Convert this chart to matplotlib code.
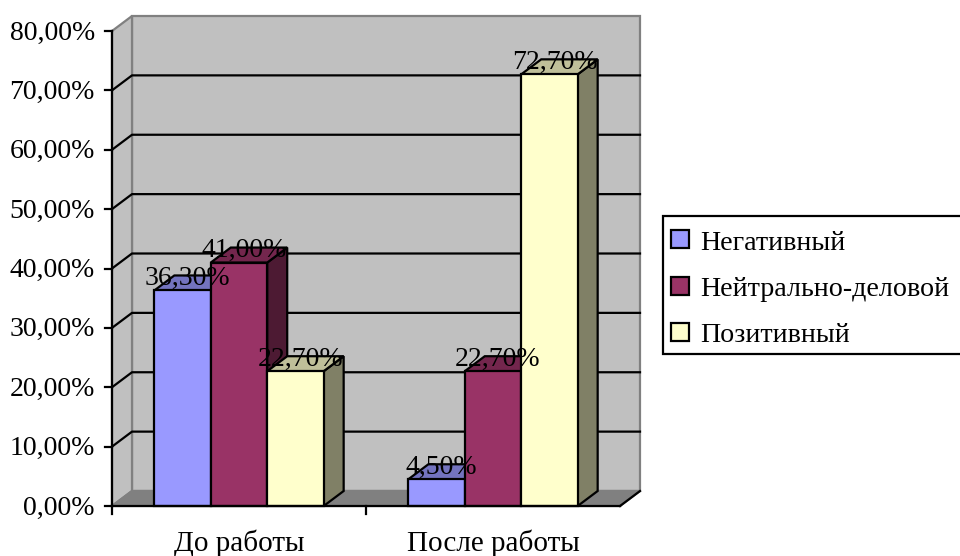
import numpy as np
import matplotlib
matplotlib.use('Agg')
import matplotlib.pyplot as plt
from matplotlib.patches import Polygon, Rectangle

plt.rcParams['font.family'] = ['Liberation Serif', 'DejaVu Serif']

categories = ['До работы', 'После работы']
series_names = ['Негативный', 'Нейтрально-деловой', 'Позитивный']
negative = [36.3, 4.5]
neutral = [41.0, 22.7]
positive = [22.7, 72.7]
y_ticks = [0, 10, 20, 30, 40, 50, 60, 70, 80]

front_colors = ['#9999ff', '#993366', '#ffffcc']
top_colors = ['#7373bf', '#73264d', '#bfbf99']
side_colors = ['#4d4d80', '#4d1a33', '#808066']

W, H = 960, 556
LW = 1.6
fig = plt.figure(figsize=(W / 100, H / 100), dpi=100)
# front plane of the 3d box
ax = fig.add_axes([112 / W, 1 - 506 / H, 508 / W, 475 / H])
ax.set_xlim(0, 2)
ax.set_ylim(0, 80)
ax.set_axis_off()

# depth of the box in data units
dx = 20 / 254
dy = 15 / (475 / 80)
px_y = 80 / 475


def poly(pts, color, z=2, edge='black'):
    ax.add_patch(Polygon(pts, closed=True, facecolor=color, edgecolor=edge,
                         lw=LW, clip_on=False, zorder=z, joinstyle='miter'))


# walls
poly([(dx, dy), (2 + dx, dy), (2 + dx, 80 + dy), (dx, 80 + dy)], '#c0c0c0', 1, '#808080')
poly([(0, 0), (dx, dy), (dx, 80 + dy), (0, 80)], '#c0c0c0', 1, '#808080')
poly([(0, 0), (2, 0), (2 + dx, dy), (dx, dy)], '#808080', 1, '#808080')
ax.plot([2, 2 + dx], [0, dy], color='black', lw=LW, clip_on=False, zorder=1.5)

for v in y_ticks[1:-1]:
    ax.plot([0, dx, 2 + dx], [v, v + dy, v + dy], color='black', lw=LW,
            clip_on=False, zorder=1.5)

# axes lines and ticks
ax.plot([0, 0], [0, 80], color='black', lw=LW, clip_on=False, zorder=5)
ax.plot([0, 2], [0, 0], color='black', lw=LW, clip_on=False, zorder=5)
for v in y_ticks:
    ax.plot([-0.028, 0], [v, v], color='black', lw=LW, clip_on=False, zorder=5)
    ax.text(-0.067, v - 2 * px_y, ('%.2f%%' % v).replace('.', ','), ha='right', va='center',
            fontsize=20, clip_on=False)
for i in range(2):
    ax.plot([i, i], [0, -1.3], color='black', lw=LW, clip_on=False, zorder=5)
for i, name in enumerate(categories):
    ax.text(i + 0.5, -6.2, name, ha='center', va='center', fontsize=21)

# bars
bar_w = 1 / 4.5
start = 0.75 * bar_w
data = [negative, neutral, positive]
z = 3
for g in range(2):
    for s in range(3):
        x0 = g + start + s * bar_w
        x1 = x0 + bar_w
        v = data[s][g]
        poly([(x1, 0), (x1 + dx, dy), (x1 + dx, v + dy), (x1, v)], side_colors[s], z)
        poly([(x0, v), (x1, v), (x1 + dx, v + dy), (x0 + dx, v + dy)], top_colors[s], z)
        ax.add_patch(Rectangle((x0, 0), bar_w, v, facecolor=front_colors[s],
                               edgecolor='black', lw=LW, clip_on=False, zorder=z))
        z += 0.1

# value labels sit above everything
for g in range(2):
    for s in range(3):
        x = g + start + (s + 0.5) * bar_w + dx / 4
        v = data[s][g]
        ax.text(x, v + dy * 0.75 + 1 * px_y, ('%.2f%%' % v).replace('.', ','), ha='center',
                va='center', fontsize=20, zorder=10, clip_on=False)

# legend box drawn by hand in figure pixels
lax = fig.add_axes([0, 0, 1, 1])
lax.set_xlim(0, W)
lax.set_ylim(H, 0)
lax.set_axis_off()
lax.patch.set_alpha(0)
lax.add_patch(Rectangle((663, 216), 300, 138, facecolor='white', edgecolor='black',
                        lw=LW, clip_on=False))
for name, color, y in zip(series_names, front_colors, [241, 288, 334]):
    lax.add_patch(Rectangle((671, y - 11), 18, 18, facecolor=color, edgecolor='black', lw=LW))
    lax.text(700, y + 2, name, ha='left', va='center', fontsize=20.2)

fig.savefig('out.png', dpi=100, facecolor='white')
